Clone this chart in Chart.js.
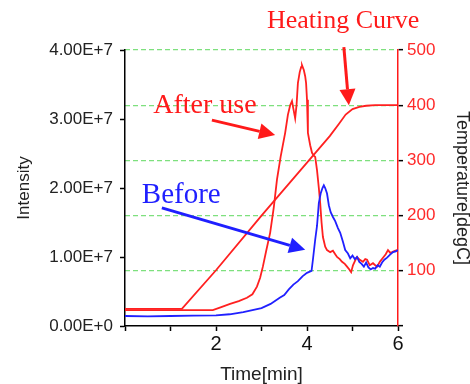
<!DOCTYPE html>
<html>
<head>
<meta charset="utf-8">
<script src="https://cdn.jsdelivr.net/npm/chart.js@4.4.1/dist/chart.umd.min.js"></script>
<style>
  html, body { margin: 0; padding: 0; background: #ffffff; }
  #wrap { width: 470px; height: 384px; position: relative; }
</style>
</head>
<body>
<div id="wrap"><canvas id="c" width="470" height="384"></canvas></div>
<script>
// ---- Data ----
const beforeTime = [0, 0.5, 1.0, 1.5, 2.0, 2.3, 2.6, 2.8, 3.0, 3.2, 3.4, 3.5, 3.6, 3.7, 3.8, 3.9, 4.0, 4.1, 4.13, 4.18, 4.22, 4.26, 4.30, 4.34, 4.37, 4.40, 4.44, 4.48, 4.52, 4.57, 4.62, 4.68, 4.73, 4.79, 4.84, 4.90, 4.95, 5.00, 5.05, 5.10, 5.15, 5.20, 5.25, 5.30, 5.35, 5.40, 5.45, 5.50, 5.55, 5.60, 5.65, 5.70, 5.76, 5.82, 5.89, 5.95, 6.0];
const beforeIntensity = [1.45e6, 1.40e6, 1.45e6, 1.50e6, 1.55e6, 1.70e6, 2.0e6, 2.3e6, 2.6e6, 3.2e6, 4.1e6, 4.5e6, 5.3e6, 6.0e6, 6.5e6, 7.2e6, 7.7e6, 8.0e6, 9.6e6, 12.5e6, 14.5e6, 17.8e6, 19.2e6, 20.0e6, 20.4e6, 20.0e6, 19.2e6, 17.5e6, 16.5e6, 15.8e6, 15.2e6, 14.2e6, 13.5e6, 12.2e6, 11.0e6, 10.5e6, 9.8e6, 10.2e6, 9.7e6, 10.0e6, 9.3e6, 9.0e6, 8.6e6, 9.2e6, 8.5e6, 8.2e6, 8.4e6, 8.3e6, 8.8e6, 8.6e6, 9.2e6, 9.6e6, 9.9e6, 10.3e6, 10.7e6, 10.8e6, 11.0e6];

const afterTime = [0, 1.0, 1.93, 2.1, 2.31, 2.5, 2.68, 2.8, 2.90, 2.97, 3.03, 3.1, 3.19, 3.27, 3.34, 3.42, 3.52, 3.58, 3.63, 3.67, 3.70, 3.74, 3.77, 3.80, 3.84, 3.87, 3.89, 3.93, 3.96, 3.98, 4.00, 4.02, 4.07, 4.11, 4.15, 4.18, 4.22, 4.26, 4.29, 4.32, 4.35, 4.40, 4.44, 4.51, 4.57, 4.62, 4.66, 4.72, 4.77, 4.83, 4.88, 4.93, 4.97, 5.01, 5.06, 5.10, 5.16, 5.23, 5.28, 5.32, 5.38, 5.45, 5.50, 5.54, 5.60, 5.67, 5.73, 5.78, 5.83, 5.87, 5.93, 5.98, 6.0];
const afterIntensity = [2.3e6, 2.3e6, 2.3e6, 2.7e6, 3.2e6, 3.6e6, 4.1e6, 4.6e6, 5.7e6, 7.0e6, 8.6e6, 10.8e6, 13.5e6, 17.2e6, 21.2e6, 24.5e6, 28.0e6, 30.6e6, 32.0e6, 32.6e6, 31.5e6, 30.1e6, 32.0e6, 35.2e6, 36.8e6, 37.5e6, 37.8e6, 37.1e6, 36.2e6, 35.2e6, 32.8e6, 28.0e6, 26.2e6, 25.1e6, 24.7e6, 24.5e6, 22.6e6, 20.0e6, 17.8e6, 15.0e6, 12.9e6, 11.5e6, 11.0e6, 10.7e6, 10.9e6, 10.4e6, 10.0e6, 9.7e6, 9.3e6, 9.0e6, 8.6e6, 8.2e6, 7.8e6, 8.8e6, 9.5e6, 10.0e6, 9.6e6, 9.3e6, 9.7e6, 9.6e6, 8.8e6, 9.1e6, 8.8e6, 8.6e6, 9.3e6, 9.9e6, 10.4e6, 11.0e6, 10.6e6, 10.7e6, 10.9e6, 11.0e6, 11.0e6];

const heatTime = [0, 1.25, 2.0, 3.0, 4.0, 4.5, 4.7, 4.85, 5.0, 5.15, 5.3, 5.5, 6.0];
const heatTemp = [31, 31, 101, 200, 296, 344, 366, 383, 393, 397, 399, 400, 400];

const xTicksShown = [2, 4, 6];
const tempTicksShown = [100, 200, 300, 400, 500];

// annotation anchors in data units (x: min, y: degC)
const labels = [
  { text: 'Heating Curve', x: 3.12, y: 540, color: '#ff1a1a', size: 26 },
  { text: 'After use', x: 0.62, y: 386, color: '#ff1a1a', size: 28 },
  { text: 'Before', x: 0.37, y: 223, color: '#1f1fff', size: 29 }
];
const arrows = [
  { from: [4.81, 505], to: [4.92, 400], color: '#ff1a1a' },
  { from: [1.91, 373], to: [3.30, 346], color: '#ff1a1a' },
  { from: [0.81, 214], to: [3.96, 138], color: '#1f1fff' }
];

const zip = (xs, ys) => xs.map((x, i) => ({ x: x, y: ys[i] }));

const SANS = '"Liberation Sans", Arial, sans-serif';
const SERIF = '"Liberation Serif", "Times New Roman", serif';

const overlay = {
  id: 'overlay',
  afterDraw(chart) {
    const ctx = chart.ctx;
    const xs = chart.scales.x, ts = chart.scales.y2;
    const ca = chart.chartArea;
    ctx.save();
    // axis titles
    ctx.fillStyle = '#222';
    ctx.textAlign = 'center';
    ctx.textBaseline = 'middle';
    ctx.font = '17px ' + SANS;
    ctx.save();
    ctx.translate(24, (ca.top + ca.bottom) / 2);
    ctx.rotate(-Math.PI / 2);
    ctx.fillText('Intensity', 0, 0);
    ctx.restore();

    ctx.font = '18px ' + SANS;
    ctx.save();
    ctx.translate(462, (ca.top + ca.bottom) / 2);
    ctx.rotate(Math.PI / 2);
    ctx.fillText('Temperature[degC]', 0, 0);
    ctx.restore();

    ctx.font = '19px ' + SANS;
    ctx.fillText('Time[min]', (ca.left + ca.right) / 2, 375);

    // annotation labels
    ctx.textAlign = 'left';
    ctx.textBaseline = 'alphabetic';
    labels.forEach(l => {
      ctx.font = l.size + 'px ' + SERIF;
      ctx.fillStyle = l.color;
      ctx.fillText(l.text, xs.getPixelForValue(l.x), ts.getPixelForValue(l.y));
    });

    // arrows
    arrows.forEach(a => {
      const x1 = xs.getPixelForValue(a.from[0]), y1 = ts.getPixelForValue(a.from[1]);
      const x2 = xs.getPixelForValue(a.to[0]), y2 = ts.getPixelForValue(a.to[1]);
      const ang = Math.atan2(y2 - y1, x2 - x1);
      const hl = 16, hw = 8;
      const bx = x2 - hl * Math.cos(ang), by = y2 - hl * Math.sin(ang);
      ctx.strokeStyle = a.color;
      ctx.fillStyle = a.color;
      ctx.lineWidth = 3;
      ctx.beginPath();
      ctx.moveTo(x1, y1);
      ctx.lineTo(bx, by);
      ctx.stroke();
      ctx.beginPath();
      ctx.moveTo(x2, y2);
      ctx.lineTo(bx + hw * Math.sin(ang), by - hw * Math.cos(ang));
      ctx.lineTo(bx - hw * Math.sin(ang), by + hw * Math.cos(ang));
      ctx.closePath();
      ctx.fill();
    });
    ctx.restore();
  }
};

new Chart(document.getElementById('c'), {
  type: 'line',
  data: {
    datasets: [
      { label: 'Before', data: zip(beforeTime, beforeIntensity), yAxisID: 'y', borderColor: '#2020ff', borderWidth: 1.8, pointRadius: 0, tension: 0, fill: false },
      { label: 'After use', data: zip(afterTime, afterIntensity), yAxisID: 'y', borderColor: '#ff2020', borderWidth: 1.8, pointRadius: 0, tension: 0, fill: false },
      { label: 'Heating Curve', data: zip(heatTime, heatTemp), yAxisID: 'y2', borderColor: '#ff2020', borderWidth: 1.8, pointRadius: 0, tension: 0, fill: false }
    ]
  },
  options: {
    responsive: false,
    animation: false,
    layout: { padding: { top: 50, left: 0, right: 0, bottom: 0 } },
    plugins: { legend: { display: false }, tooltip: { enabled: false }, title: { display: false } },
    scales: {
      x: {
        type: 'linear', position: 'bottom', min: 0, max: 6,
        afterFit: s => { s.height = 58; },
        ticks: {
          stepSize: 1, padding: 1, color: '#111', maxRotation: 0, autoSkip: false,
          font: { family: SANS, size: 20 },
          callback: v => xTicksShown.includes(v) ? String(v) : ''
        },
        grid: { drawOnChartArea: false, drawTicks: true, tickLength: 5, tickColor: '#000', tickWidth: 1.5 },
        border: { display: true, color: '#000', width: 1.5 }
      },
      y: {
        type: 'linear', position: 'left', min: 0, max: 4e7,
        afterFit: s => { s.width = 125; },
        ticks: {
          stepSize: 1e7, padding: 7, color: '#222',
          font: { family: SANS, size: 17 },
          callback: v => v === 0 ? '0.00E+0' : (v / 1e7).toFixed(2) + 'E+7'
        },
        grid: { drawOnChartArea: false, drawTicks: true, tickLength: 5, tickColor: '#000', tickWidth: 1.5 },
        border: { display: true, color: '#000', width: 1.5 }
      },
      y2: {
        type: 'linear', position: 'right', min: 0, max: 500,
        afterFit: s => { s.width = 72; },
        ticks: {
          stepSize: 100, padding: 4, color: '#ff2a2a',
          font: { family: SANS, size: 17 },
          callback: v => tempTicksShown.includes(v) ? String(v) : ''
        },
        grid: {
          drawOnChartArea: true, drawTicks: true, tickLength: 5, tickColor: '#000', tickWidth: 1.5,
          color: c => (c.tick && c.tick.value === 0) ? 'rgba(0,0,0,0)' : '#7ee07e',
          lineWidth: 1.3
        },
        border: { display: true, color: '#ff1a1a', width: 1.5, dash: [5, 3] }
      }
    }
  },
  plugins: [overlay]
});
</script>
</body>
</html>
